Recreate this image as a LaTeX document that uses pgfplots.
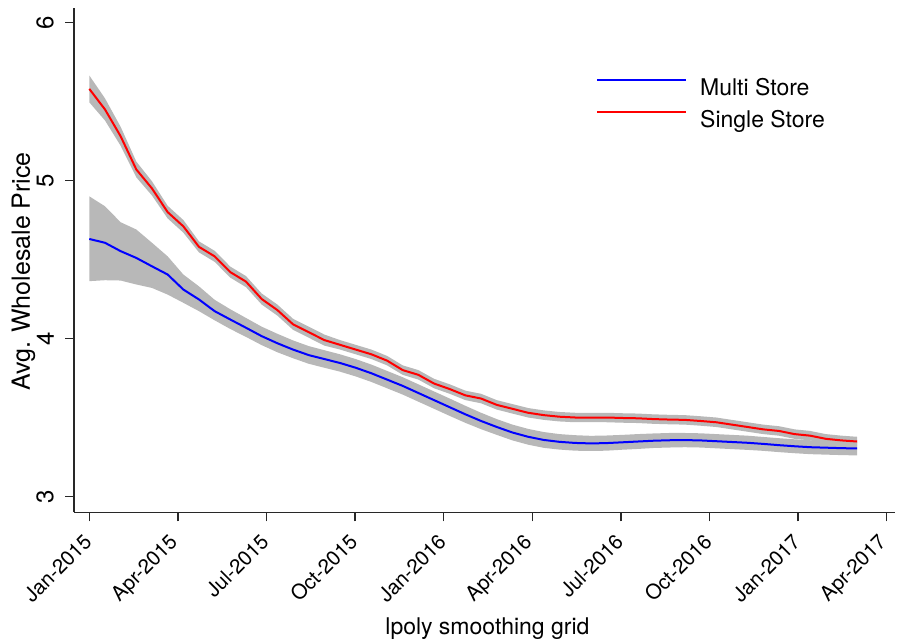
\documentclass[border=0pt]{standalone}
\usepackage{fontspec}
\setmainfont{TeX Gyre Heros}
\usepackage{graphicx}
\usepackage{pgfplots}
\pgfplotsset{compat=1.18}
\usepgfplotslibrary{fillbetween}
\usepackage{pgfplotstable}

\definecolor{bandgray}{RGB}{184,184,184}
\definecolor{axisgray}{RGB}{40,40,40}
\newcommand\chartfont{\fontsize{23}{27.6}\selectfont}
\newcommand\ytitlefont{\fontsize{25}{30}\selectfont}
\newcommand\xtickfont{\fontsize{20.5}{24.6}\selectfont}
\newcommand\ytickfont{\fontsize{24}{28.8}\selectfont}
\newcommand\rl[1]{\rotatebox{45}{#1}}

% lpoly grid: months since Jan-2015; fitted value with 95% band
% mb = multi store, sr = single store
\pgfplotstableread{
x      mb     mblo   mbhi   sr     srlo   srhi
0.000  4.630  4.363  4.900  5.580  5.495  5.665
0.531  4.606  4.369  4.837  5.450  5.380  5.520
1.061  4.553  4.367  4.736  5.280  5.220  5.340
1.592  4.510  4.342  4.690  5.070  5.020  5.120
2.122  4.457  4.320  4.606  4.950  4.905  4.995
2.653  4.405  4.278  4.520  4.800  4.760  4.840
3.184  4.310  4.226  4.405  4.710  4.670  4.750
3.714  4.247  4.173  4.330  4.580  4.545  4.615
4.245  4.173  4.115  4.245  4.520  4.485  4.555
4.776  4.120  4.060  4.185  4.420  4.385  4.455
5.306  4.068  4.010  4.130  4.360  4.325  4.395
5.837  4.015  3.958  4.075  4.250  4.215  4.285
6.367  3.970  3.913  4.030  4.180  4.145  4.215
6.898  3.930  3.875  3.988  4.090  4.055  4.125
7.429  3.895  3.840  3.952  4.040  4.005  4.075
7.959  3.870  3.815  3.926  3.990  3.955  4.025
8.490  3.845  3.790  3.900  3.960  3.930  3.990
9.020  3.815  3.760  3.870  3.930  3.900  3.960
9.551  3.780  3.725  3.835  3.900  3.870  3.930
10.082 3.740  3.685  3.795  3.860  3.830  3.890
10.612 3.700  3.645  3.755  3.800  3.770  3.830
11.143 3.655  3.600  3.710  3.770  3.740  3.800
11.673 3.610  3.555  3.665  3.715  3.685  3.745
12.204 3.565  3.510  3.620  3.680  3.650  3.710
12.735 3.520  3.466  3.574  3.640  3.610  3.670
13.265 3.478  3.426  3.530  3.620  3.590  3.650
13.796 3.440  3.390  3.490  3.580  3.550  3.610
14.327 3.405  3.355  3.455  3.555  3.525  3.585
14.857 3.378  3.328  3.428  3.530  3.500  3.560
15.388 3.358  3.308  3.408  3.515  3.485  3.545
15.918 3.346  3.297  3.395  3.505  3.475  3.535
16.449 3.339  3.290  3.388  3.500  3.470  3.530
16.980 3.336  3.288  3.384  3.500  3.470  3.530
17.510 3.338  3.290  3.386  3.500  3.470  3.530
18.041 3.343  3.296  3.390  3.497  3.467  3.527
18.571 3.348  3.301  3.395  3.495  3.465  3.525
19.102 3.353  3.307  3.399  3.490  3.460  3.520
19.633 3.356  3.310  3.402  3.487  3.457  3.517
20.163 3.357  3.312  3.402  3.485  3.455  3.515
20.694 3.355  3.310  3.400  3.478  3.448  3.508
21.224 3.350  3.305  3.395  3.470  3.440  3.500
21.755 3.345  3.300  3.390  3.455  3.425  3.485
22.286 3.340  3.295  3.385  3.440  3.410  3.470
22.816 3.333  3.289  3.377  3.425  3.395  3.455
23.347 3.325  3.281  3.369  3.415  3.385  3.445
23.878 3.318  3.274  3.362  3.395  3.365  3.425
24.408 3.312  3.268  3.356  3.385  3.355  3.415
24.939 3.309  3.265  3.353  3.365  3.335  3.395
25.469 3.306  3.262  3.350  3.355  3.325  3.385
26.000 3.304  3.260  3.348  3.348  3.318  3.378
}\gridtable

\begin{document}
\begin{tikzpicture}
\begin{axis}[
  at={(0pt,0pt)}, anchor=south west,
  scale only axis,
  width=821pt, height=504.3pt,
  xmin=-0.518, xmax=27.28,
  ymin=2.9, ymax=6.092,
  axis lines*=left,
  axis line style={line width=1.3pt, axisgray, -},
  tick style={line width=1.3pt, axisgray},
  tick align=outside,
  major tick length=9pt,
  xtick={0,3,6,9,12,15,18,21,24,27},
  xticklabels={\rl{Jan-2015},\rl{Apr-2015},\rl{Jul-2015},\rl{Oct-2015},\rl{Jan-2016},\rl{Apr-2016},\rl{Jul-2016},\rl{Oct-2016},\rl{Jan-2017},\rl{Apr-2017}},
  ytick={3,4,5,6},
  yticklabels={3,4,5,6},
  /pgf/number format/assume math mode=true,
  xticklabel style={font=\xtickfont, anchor=north east, inner sep=0pt, xshift=4pt, yshift=-11pt},
  yticklabel style={font=\ytickfont, xshift=-11pt, rotate=90, anchor=south, inner sep=0pt},
  xlabel={lpoly smoothing grid},
  ylabel={Avg. Wholesale Price},
  xlabel style={font=\chartfont, at={(axis description cs:0.5036,-0.2314)}, anchor=center},
  ylabel style={font=\ytitlefont, at={(axis description cs:-0.0615,0.4775)}, anchor=center},
  legend style={
    draw=none, fill=none, inner sep=0pt,
    at={(axis description cs:0.6358,0.8604)}, anchor=north west,
    font=\chartfont, row sep=13.2pt, column sep=13pt,
    nodes={inner sep=0pt},
  },
  legend cell align=left,
  legend image code/.code={\draw[#1] (0pt,8pt) -- (89pt,8pt);},
]
% confidence bands
\addplot[draw=none, name path=mbhi, forget plot] table[x=x, y=mbhi] {\gridtable};
\addplot[draw=none, name path=mblo, forget plot] table[x=x, y=mblo] {\gridtable};
\addplot[fill=bandgray, draw=none, forget plot] fill between[of=mbhi and mblo];
\addplot[draw=none, name path=srhi, forget plot] table[x=x, y=srhi] {\gridtable};
\addplot[draw=none, name path=srlo, forget plot] table[x=x, y=srlo] {\gridtable};
\addplot[fill=bandgray, draw=none, forget plot] fill between[of=srhi and srlo];
% fitted lines
\addplot[blue, line width=2pt] table[x=x, y=mb] {\gridtable};
\addlegendentry{Multi Store}
\addplot[red, line width=2pt] table[x=x, y=sr] {\gridtable};
\addlegendentry{Single Store}
\end{axis}
\pgfresetboundingbox
\path[use as bounding box] (-74pt,-130.7pt) rectangle (824pt,512.3pt);
\end{tikzpicture}
\end{document}
